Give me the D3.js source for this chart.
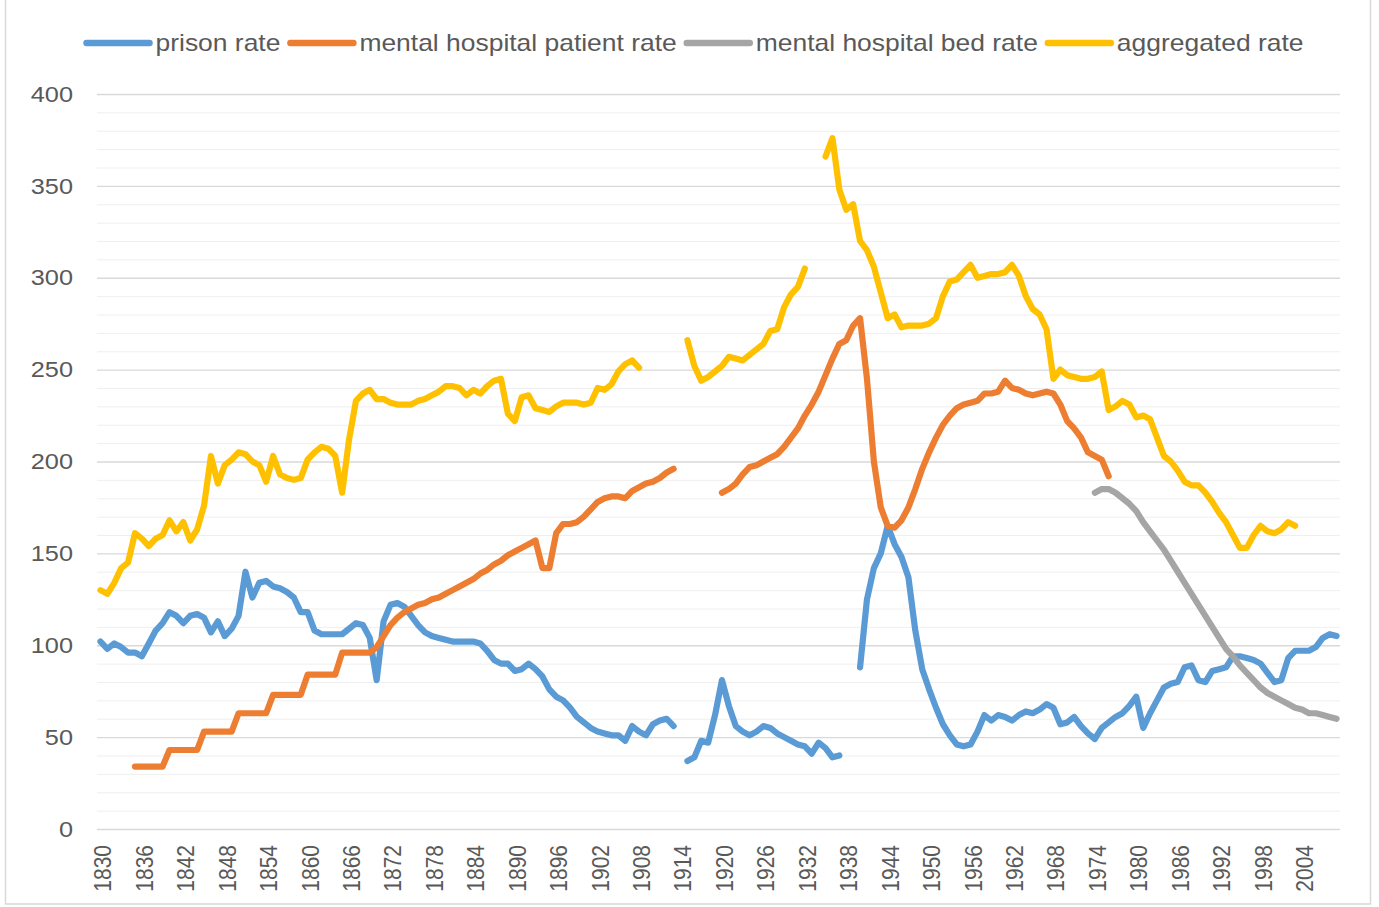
<!DOCTYPE html>
<html>
<head>
<meta charset="utf-8">
<script src="https://cdn.jsdelivr.net/npm/d3@7"></script>
<style>
body { margin: 0; background: #fff; }
svg { display: block; }
text { font-family: "Liberation Sans", Arial, sans-serif; fill: #595959; }
</style>
</head>
<body>
<svg id="chart" width="1379" height="907"></svg>
<script>

// categories
let years = d3.range(1830, 2010)
let tickYears = d3.range(1830, 2010, 6)
let yTicks = [0, 50, 100, 150, 200, 250, 300, 350, 400]
let minorTicks = d3.range(0, 401, 10).filter(d => d % 50 != 0)

let seriesNames = ['prison rate', 'mental hospital patient rate', 'mental hospital bed rate', 'aggregated rate']
let seriesColors = ['#5B9BD5', '#ED7D31', '#A5A5A5', '#FFC000']

// 1830 .. 2009, null = no data
let prisonRate = [
	102, 98, 101, 99, 96, 96, 94, 101, 108, 112,
	118, 116, 112, 116, 117, 115, 107, 113, 105, 109,
	116, 140, 126, 134, 135, 132, 131, 129, 126, 118,
	118, 108, 106, 106, 106, 106, 109, 112, 111, 104,
	81, 113, 122, 123, 121, 116, 111, 107, 105, 104,
	103, 102, 102, 102, 102, 101, 97, 92, 90, 90,
	86, 87, 90, 87, 83, 76, 72, 70, 66, 61,
	58, 55, 53, 52, 51, 51, 48, 56, 53, 51,
	57, 59, 60, 56, null, 37, 39, 48, 47, 62,
	81, 67, 56, 53, 51, 53, 56, 55, 52, 50,
	48, 46, 45, 41, 47, 44, 39, 40, null, null,
	88, 125, 142, 150, 165, 155, 148, 137, 108, 87,
	76, 66, 57, 51, 46, 45, 46, 53, 62, 59,
	62, 61, 59, 62, 64, 63, 65, 68, 66, 57,
	58, 61, 56, 52, 49, 55, 58, 61, 63, 67,
	72, 55, 63, 70, 77, 79, 80, 88, 89, 81,
	80, 86, 87, 88, 94, 94, 93, 92, 90, 85,
	80, 81, 93, 97, 97, 97, 99, 104, 106, 105
]

let patientRate = [
	null, null, null, null, null, 34, 34, 34, 34, 34,
	43, 43, 43, 43, 43, 53, 53, 53, 53, 53,
	63, 63, 63, 63, 63, 73, 73, 73, 73, 73,
	84, 84, 84, 84, 84, 96, 96, 96, 96, 96,
	99, 105, 111, 115, 118, 120, 122, 123, 125, 126,
	128, 130, 132, 134, 136, 139, 141, 144, 146, 149,
	151, 153, 155, 157, 142, 142, 161, 166, 166, 167,
	170, 174, 178, 180, 181, 181, 180, 184, 186, 188,
	189, 191, 194, 196, null, null, null, null, null, null,
	183, 185, 188, 193, 197, 198, 200, 202, 204, 208,
	213, 218, 225, 231, 238, 247, 256, 264, 266, 274,
	278, 245, 200, 175, 165, 164, 168, 175, 185, 196,
	205, 213, 220, 225, 229, 231, 232, 233, 237, 237,
	238, 244, 240, 239, 237, 236, 237, 238, 237, 231,
	222, 218, 213, 205, 203, 201, 192, null, null, null,
	null, null, null, null, null, null, null, null, null, null,
	null, null, null, null, null, null, null, null, null, null,
	null, null, null, null, null, null, null, null, null, null
]

let bedRate = [
	null, null, null, null, null, null, null, null, null, null,
	null, null, null, null, null, null, null, null, null, null,
	null, null, null, null, null, null, null, null, null, null,
	null, null, null, null, null, null, null, null, null, null,
	null, null, null, null, null, null, null, null, null, null,
	null, null, null, null, null, null, null, null, null, null,
	null, null, null, null, null, null, null, null, null, null,
	null, null, null, null, null, null, null, null, null, null,
	null, null, null, null, null, null, null, null, null, null,
	null, null, null, null, null, null, null, null, null, null,
	null, null, null, null, null, null, null, null, null, null,
	null, null, null, null, null, null, null, null, null, null,
	null, null, null, null, null, null, null, null, null, null,
	null, null, null, null, null, null, null, null, null, null,
	null, null, null, null, 183, 185, 185, 183, 180, 177,
	173, 167, 162, 157, 152, 146, 140, 134, 128, 122,
	116, 110, 104, 98, 94, 89, 85, 81, 77, 74,
	72, 70, 68, 66, 65, 63, 63, 62, 61, 60
]

let aggregatedRate = [
	130, 128, 134, 142, 145, 161, 158, 154, 158, 160,
	168, 162, 167, 157, 163, 176, 203, 188, 198, 201,
	205, 204, 200, 198, 189, 203, 193, 191, 190, 191,
	201, 205, 208, 207, 203, 183, 212, 233, 237, 239,
	234, 234, 232, 231, 231, 231, 233, 234, 236, 238,
	241, 241, 240, 236, 239, 237, 241, 244, 245, 226,
	222, 235, 236, 229, 228, 227, 230, 232, 232, 232,
	231, 232, 240, 239, 242, 249, 253, 255, 251, null,
	null, null, null, null, null, 266, 252, 244, 246, 249,
	252, 257, 256, 255, 258, 261, 264, 271, 272, 284,
	291, 295, 305, null, null, 366, 376, 348, 337, 340,
	320, 315, 306, 292, 278, 280, 273, 274, 274, 274,
	275, 278, 290, 298, 299, 303, 307, 300, 301, 302,
	302, 303, 307, 301, 290, 283, 280, 272, 245, 250,
	247, 246, 245, 245, 246, 249, 228, 230, 233, 231,
	224, 225, 223, 213, 203, 200, 195, 189, 187, 187,
	183, 178, 172, 167, 160, 153, 153, 160, 165, 162,
	161, 163, 167, 165, null, null, null, null, null, null
]

let seriesValues = [prisonRate, patientRate, bedRate, aggregatedRate]


let svg = d3.select('#chart')

let plotLeft = 97, plotRight = 1340, plotTop = 94, plotBottom = 829
let stretch = 1.15

let x = d3.scalePoint()
	.domain(years)
	.range([plotLeft, plotRight])
	.padding(0.5)

let y = d3.scaleLinear()
	.domain([0, 400])
	.range([plotBottom, plotTop])

// outer frame
svg.append('rect')
	.attr('x', 5.5)
	.attr('y', -2)
	.attr('width', 1365)
	.attr('height', 906)
	.attr('fill', 'none')
	.attr('stroke', '#d9d9d9')
	.attr('stroke-width', 1.5)

// gridlines
let minorGrid = svg.append('g')
	.attr('transform', 'translate(' + plotLeft + ',0)')
	.call(d3.axisLeft(y).tickValues(minorTicks).tickSize(-(plotRight - plotLeft)).tickFormat(''))
minorGrid.select('.domain').remove()
minorGrid.selectAll('line').attr('stroke', '#efefef').attr('stroke-width', 1)

let majorGrid = svg.append('g')
	.attr('transform', 'translate(' + plotLeft + ',0)')
	.call(d3.axisLeft(y).tickValues(yTicks).tickSize(-(plotRight - plotLeft)).tickFormat(''))
majorGrid.select('.domain').remove()
majorGrid.selectAll('line').attr('stroke', '#d9d9d9').attr('stroke-width', 1.3)

// y labels
svg.selectAll('.ylabel')
	.data(yTicks)
	.enter()
	.append('g')
	.attr('class', 'ylabel')
	.attr('transform', d => 'translate(73,' + y(d) + ') scale(' + stretch + ',1)')
	.append('text')
	.attr('text-anchor', 'end')
	.attr('dy', '0.35em')
	.attr('font-size', 22)
	.text(d => d)

// x labels
svg.selectAll('.xlabel')
	.data(tickYears)
	.enter()
	.append('g')
	.attr('class', 'xlabel')
	.attr('transform', d => 'translate(' + (x(d) + 2.5) + ',845) scale(' + stretch + ',1) rotate(-90)')
	.append('text')
	.attr('text-anchor', 'end')
	.attr('dy', '0.35em')
	.attr('font-size', 21)
	.text(d => d)

// lines
let line = d3.line()
	.defined(d => d.v != null)
	.x(d => x(d.year))
	.y(d => y(d.v))

seriesValues.forEach(function(values, i){

	let points = years.map((year, j) => ({year: year, v: values[j]}))

	svg.append('path')
		.datum(points)
		.attr('d', line)
		.attr('fill', 'none')
		.attr('stroke', seriesColors[i])
		.attr('stroke-width', 6.2)
		.attr('stroke-linejoin', 'round')
		.attr('stroke-linecap', 'round')
})

// legend
let legend = svg.append('g')

let cursor = 0

seriesNames.forEach(function(name, i){

	let item = legend.append('g').attr('transform', 'translate(' + cursor + ',43)')

	item.append('line')
		.attr('x1', 3)
		.attr('x2', 66)
		.attr('stroke', seriesColors[i])
		.attr('stroke-width', 6.5)
		.attr('stroke-linecap', 'round')

	let label = item.append('g')
		.attr('transform', 'translate(72,0) scale(' + stretch + ',1)')
		.append('text')
		.attr('dy', '0.35em')
		.attr('font-size', 23)
		.text(name)

	cursor += 72 + label.node().getComputedTextLength() * stretch + 7
})

legend.attr('transform', 'translate(' + (697 - cursor / 2) + ',0)')

</script>
</body>
</html>
